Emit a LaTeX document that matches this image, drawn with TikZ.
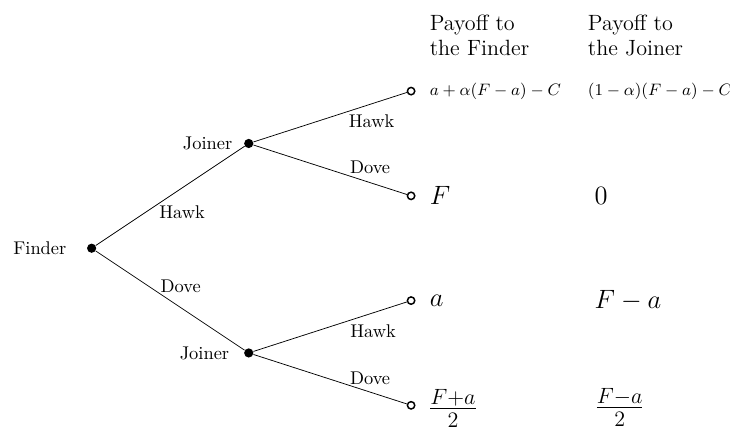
\documentclass[tikz,border=0pt]{standalone}
\begin{document}
\begin{tikzpicture}[
  dot/.style={circle, fill=black, inner sep=0pt, minimum size=5pt},
  leaf/.style={circle, draw, thick, fill=white, inner sep=0pt, minimum size=4pt},
  payoff/.style={anchor=west, inner sep=0pt, font=\Large},
  head/.style={anchor=north west, inner sep=0pt, align=left, font=\large}]
  \useasboundingbox (-1.75,-3.47) rectangle (12.19,4.74);
  % Decision nodes
  \node[dot, label={[label distance=7.5pt]left:Finder}] (finder) at (0,0) {};
  \node[dot, label={[label distance=2.7pt]left:Joiner}] (joinerH) at (3,2) {};
  \node[dot, label={[label distance=4.4pt]left:Joiner}] (joinerD) at (3,-2) {};
  % Terminal nodes
  \node[leaf] (hh) at (6.1,3) {};
  \node[leaf] (hd) at (6.1,1) {};
  \node[leaf] (dh) at (6.1,-1) {};
  \node[leaf] (dd) at (6.1,-3) {};
  % Branches
  \draw (finder) -- node[pos=0.58, below=6.2pt] (fh) {Hawk} (joinerH);
  \draw (finder) -- node[pos=0.57, above=4.4pt] (fd) {Dove} (joinerD);
  \draw (joinerH) -- node[pos=0.77, below=2.5pt] (hhl) {Hawk} (hh);
  \draw (joinerH) -- node[pos=0.76, above=1.4pt] (hdl) {Dove} (hd);
  \draw (joinerD) -- node[pos=0.78, below=3pt] (dhl) {Hawk} (dh);
  \draw (joinerD) -- node[pos=0.76, above=0.5pt] (ddl) {Dove} (dd);
  % Column heads
  \node[head] (headF) at (6.45,4.47) {Payoff to\\the Finder};
  \node[head] (headJ) at (9.47,4.47) {Payoff to\\the Joiner};
  % Payoffs to the Finder
  \node[payoff, font=\small] (pFhh) at (6.45,3) {$a+\alpha(F-a)-C$};
  \node[payoff] (pFhd) at (6.45,1) {$F$};
  \node[payoff] (pFdh) at (6.45,-1) {$a$};
  \node[payoff, font=\LARGE] (pFdd) at (6.42,-3.06) {$\frac{F+a}{2}$};
  % Payoffs to the Joiner
  \node[payoff, font=\small] (pJhh) at (9.47,3) {$(1-\alpha)(F-a)-C$};
  \node[payoff] (pJhd) at (9.6,1) {$0$};
  \node[payoff] (pJdh) at (9.6,-1) {$F-a$};
  \node[payoff, font=\LARGE] (pJdd) at (9.6,-3.04) {$\frac{F-a}{2}$};
\end{tikzpicture}
\end{document}
